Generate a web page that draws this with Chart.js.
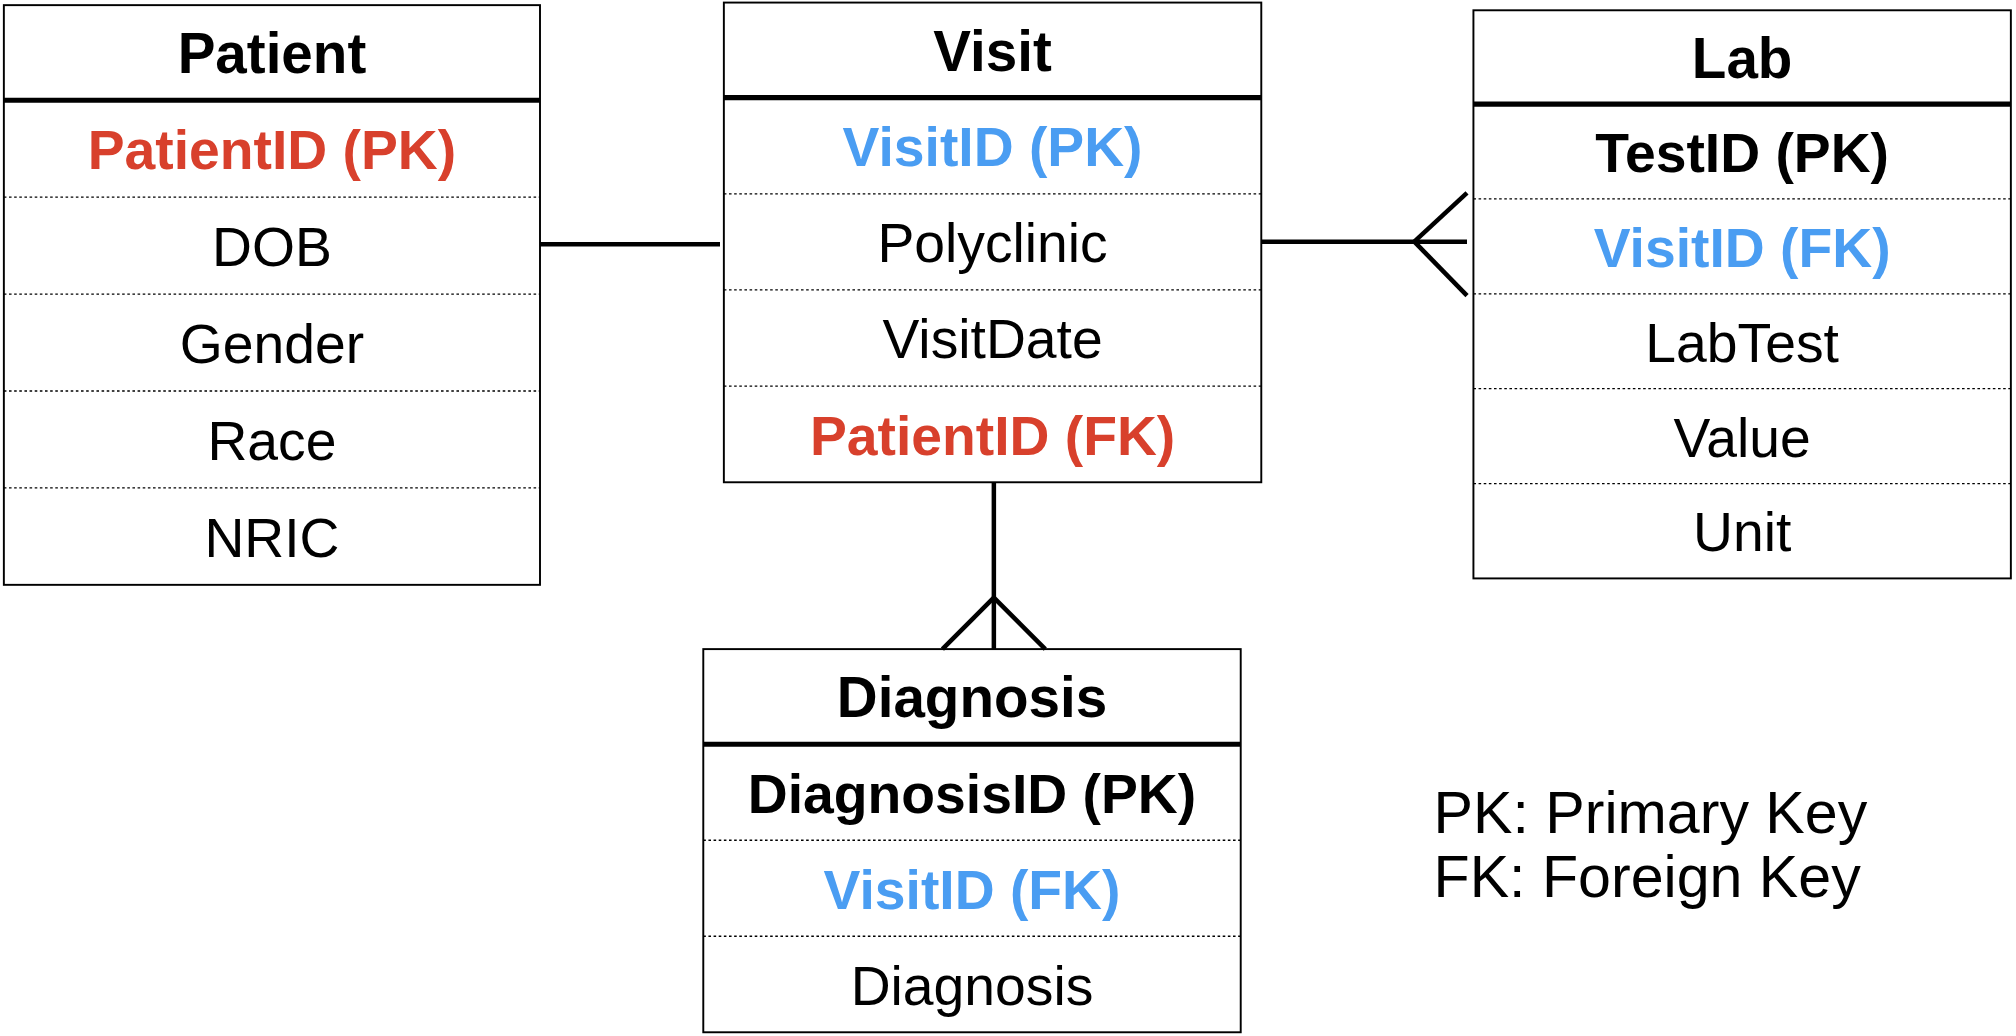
<!DOCTYPE html>
<html>
<head>
<meta charset="utf-8">
<script src="https://cdn.jsdelivr.net/npm/chart.js@4"></script>
<style>
  html, body { margin: 0; padding: 0; background: #fff; }
  #wrap { width: 2016px; height: 1036px; }
</style>
</head>
<body>
<div id="wrap"><canvas id="erChart"></canvas></div>
<script>
// table contents
const tableNames = ['Patient', 'Visit', 'Lab', 'Diagnosis'];
const tableFields = [
    ['PatientID (PK)', 'DOB', 'Gender', 'Race', 'NRIC'],
    ['VisitID (PK)', 'Polyclinic', 'VisitDate', 'PatientID (FK)'],
    ['TestID (PK)', 'VisitID (FK)', 'LabTest', 'Value', 'Unit'],
    ['DiagnosisID (PK)', 'VisitID (FK)', 'Diagnosis']
];
// field styles: 'r' red key, 'b' blue key, 'k' bold black key, '' plain
const fieldKinds = [
    ['r', '', '', '', ''],
    ['b', '', '', 'r'],
    ['k', 'b', '', '', ''],
    ['k', 'b', '']
];
const legendLines = ['PK: Primary Key', 'FK: Foreign Key'];

// layout in diagram units (x0, y0, x1, headerBottom, rowHeight)
const boxes = [
    [3, 4, 420, 78, 75.4],
    [563, 2, 981, 76, 74.8],
    [1146, 8, 1564, 81, 73.8],
    [547, 505, 965, 579, 74.7]
];

const RED = '#d8402c', BLUE = '#4a9df2';

const erPlugin = {
    id: 'erDiagram',
    afterDraw(chart) {
        const ctx = chart.ctx;
        const sx = v => chart.scales.x.getPixelForValue(v);
        const sy = v => chart.scales.y.getPixelForValue(v);
        const k = (sx(100) - sx(0)) / 100;
        ctx.save();
        ctx.textAlign = 'center';
        ctx.textBaseline = 'middle';

        boxes.forEach((b, i) => {
            const [x0, y0, x1, hb, rh] = b;
            const n = tableFields[i].length;
            const yEnd = hb + rh * n;
            ctx.strokeStyle = '#000';
            ctx.lineWidth = 1.5 * k;
            ctx.setLineDash([]);
            ctx.strokeRect(sx(x0), sy(y0), sx(x1) - sx(x0), sy(yEnd) - sy(y0));
            ctx.lineWidth = 4 * k;
            ctx.beginPath();
            ctx.moveTo(sx(x0), sy(hb));
            ctx.lineTo(sx(x1), sy(hb));
            ctx.stroke();
            ctx.fillStyle = '#000';
            ctx.font = 'bold ' + (44 * k) + 'px "Liberation Sans", Arial, sans-serif';
            ctx.fillText(tableNames[i], sx((x0 + x1) / 2), sy((y0 + hb) / 2 + 4));
            tableFields[i].forEach((f, j) => {
                const yt = hb + rh * j;
                if (j > 0) {
                    ctx.lineWidth = 1 * k;
                    ctx.setLineDash([2 * k, 2 * k]);
                    ctx.beginPath();
                    ctx.moveTo(sx(x0), sy(yt));
                    ctx.lineTo(sx(x1), sy(yt));
                    ctx.stroke();
                    ctx.setLineDash([]);
                }
                const kind = fieldKinds[i][j];
                ctx.fillStyle = kind === 'r' ? RED : kind === 'b' ? BLUE : '#000';
                ctx.font = (kind ? 'bold ' : '') + (43 * k) + 'px "Liberation Sans", Arial, sans-serif';
                ctx.fillText(f, sx((x0 + x1) / 2), sy(yt + rh / 2 + 4));
            });
        });

        // relationship lines
        ctx.strokeStyle = '#000';
        ctx.lineWidth = 3.5 * k;
        const seg = (a, b, c, d) => {
            ctx.beginPath();
            ctx.moveTo(sx(a), sy(b));
            ctx.lineTo(sx(c), sy(d));
            ctx.stroke();
        };
        seg(420, 190, 560, 190);
        seg(981, 188, 1141, 188);
        seg(1100, 188, 1141, 150);
        seg(1100, 188, 1141, 230);
        seg(773, 375, 773, 505);
        seg(773, 465, 733, 505);
        seg(773, 465, 813, 505);

        ctx.fillStyle = '#000';
        ctx.textAlign = 'left';
        ctx.font = (46 * k) + 'px "Liberation Sans", Arial, sans-serif';
        legendLines.forEach((t, i) => ctx.fillText(t, sx(1115), sy(635 + 50 * i)));
        ctx.restore();
    }
};

new Chart(document.getElementById('erChart'), {
    type: 'scatter',
    data: { datasets: [{ data: [], pointRadius: 0 }] },
    options: {
        responsive: true,
        maintainAspectRatio: false,
        animation: false,
        layout: { padding: 0 },
        plugins: { legend: { display: false }, tooltip: { enabled: false } },
        scales: {
            x: { type: 'linear', min: 0, max: 1568, display: false },
            y: { type: 'linear', min: 0, max: 806, reverse: true, display: false }
        }
    },
    plugins: [erPlugin]
});
</script>
</body>
</html>
